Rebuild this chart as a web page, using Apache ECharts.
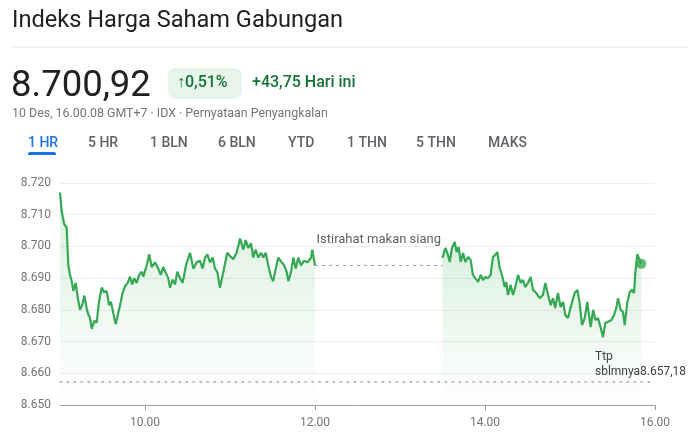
<!DOCTYPE html>
<html>
<head>
<meta charset="utf-8">
<script src="https://cdn.jsdelivr.net/npm/echarts@6/dist/echarts.min.js"></script>
<style>
html,body{margin:0;padding:0;background:#fff;}
#main{width:700px;height:438px;}
</style>
</head>
<body>
<div id="main"></div>
<script>
// ---- data (time = minutes after 09:00) ----
const title = 'Indeks Harga Saham Gabungan';
const lastPrice = '8.700,92';
const changePct = '\u21910,51%';
const changeAbs = '+43,75 Hari ini';
const subtitle = '10 Des, 16.00.08 GMT+7 \u00b7 IDX \u00b7 Pernyataan Penyangkalan';
const tabs = ['1 HR', '5 HR', '1 BLN', '6 BLN', 'YTD', '1 THN', '5 THN', 'MAKS'];
const prevClose = 8657.18;
const prevCloseLabel = 'Ttp\nsblmnya8.657,18';
const lunchLabel = 'Istirahat makan siang';
const xTickValues = [60, 180, 300, 420];
const yMin = 8650, yMax = 8720, yStep = 10;

const morningT = [0,1.2,3.0,4.7,5.9,7.1,8.3,9.4,11.1,12.5,14.1,15.7,17.2,18.8,20.0,21.2,22.4,24.2,25.9,27.5,29.4,31.3,33.0,34.6,36.0,37.6,39.3,40.7,42.4,44.0,45.9,47.8,49.4,51.0,52.4,54.1,55.8,57.7,58.8,61.2,63.0,64.7,67.1,69.4,71.1,72.9,74.8,76.4,77.6,79.6,81.2,82.8,84.7,86.6,88.9,91.8,94.1,96.5,98.8,100.7,102.4,104.0,105.9,107.8,109.4,111.0,112.9,115.3,118.1,120.0,122.3,124.7,127.1,129.4,131.1,132.9,134.8,136.4,138.1,140.0,141.9,143.5,145.2,147.0,148.9,150.5,152.3,154.1,156.5,158.3,160.0,161.2,163.1,164.7,166.4,168.2,170.1,172.4,174.8,177.2,178.1,180.0];
const morningV = [8717,8711,8707,8706,8694,8691,8689,8686,8688.5,8684,8680,8681.5,8684.5,8680.5,8678.5,8677.5,8674,8676.5,8676,8682.5,8687,8685.5,8686,8681.5,8682.5,8679,8675.5,8676,8681.5,8685,8687.5,8688.5,8690.5,8688,8690,8688.5,8691,8692,8690.5,8694,8697.5,8693.5,8695,8693,8691,8693.5,8691.5,8690,8687,8689.5,8688,8692,8690,8688.5,8694,8698,8693,8695,8695.5,8693,8696.5,8697.5,8695,8696.5,8693,8692,8687,8692,8698,8697,8696,8698,8702.5,8699,8702,8699.5,8701,8696.5,8699,8696.5,8698,8696.5,8698,8694,8690.5,8689,8693,8696.5,8695,8694,8692,8689,8692,8696.5,8693,8696.5,8694,8695.5,8695,8696.5,8699,8694];

const afternoonT = [270,272.0,273.9,275.1,276.7,278.6,280.0,281.4,282.8,284.5,286.1,288.0,289.9,291.5,293.1,295.1,297.0,298.6,300.2,302.1,304.0,305.6,307.3,308.7,310.4,312.0,313.9,315.0,316.2,318.1,319.8,321.4,323.3,325.2,326.8,328.4,330.4,332.2,333.9,336.2,338.6,340.9,342.6,344.5,346.4,348.0,349.6,351.5,353.4,355.1,356.7,358.6,360.9,363.3,365.2,366.8,368.5,370.4,372.2,373.2,374.6,376.3,377.9,379.8,381.7,383.3,384.9,386.8,389.2,391.1,392.7,393.9,395.8,397.4,398.6,400.5,402.2,403.8,405.2,406.1,407.5,410.3];
const afternoonV = [8696.4,8699.5,8697.3,8695.1,8699.5,8701.4,8698.2,8699.8,8695.1,8697.9,8695.1,8696.7,8695.7,8691,8690,8688.8,8691,8689.4,8690.4,8690,8691,8696.7,8697.3,8698.2,8693.2,8691,8687.2,8688.8,8684.7,8687.8,8684.7,8687.2,8691,8688.5,8689.4,8687.2,8688.5,8690.4,8686.3,8685.3,8683.7,8684.7,8688.5,8684.7,8681.5,8683.7,8680.6,8685.3,8680.9,8682.5,8678.4,8677.4,8681.5,8685.3,8686.3,8682.2,8675.2,8677.4,8682.5,8679,8674.6,8680,8676.8,8677.4,8674.3,8671.4,8675.9,8676.2,8676.8,8678.4,8680.6,8683.7,8680,8679.3,8675.2,8682.5,8685.6,8686.3,8685.3,8691.6,8697.6,8694.5];

// ---- build ----
const zip = (t, v) => t.map((x, i) => [x, v[i]]);
const morning = zip(morningT, morningV);
const afternoon = zip(afternoonT, afternoonV);
const lunchLevel = morningV[morningV.length - 1];
const lunchStart = morningT[morningT.length - 1];
const lunchEnd = afternoonT[0];
const lastPoint = afternoon[afternoon.length - 1];

const GREEN = '#34a853';
const FONT = 'Roboto';
const areaGrad = {
  type: 'linear', x: 0, y: 0, x2: 0, y2: 1,
  colorStops: [
    { offset: 0, color: 'rgba(52,168,83,0.26)' },
    { offset: 1, color: 'rgba(52,168,83,0.0)' }
  ]
};
const fmtY = v => Math.floor(v / 1000) + '.' + String(Math.round(v % 1000)).padStart(3, '0');
const fmtX = v => (9 + v / 60) + '.00';

const tabX = [28, 88, 150, 218, 288, 347, 416, 488];
const graphic = [
  { type: 'text', left: 12, top: 9, style: { text: title, font: '400 23.6px ' + FONT, fill: '#202124' } },
  { type: 'line', shape: { x1: 12, y1: 47, x2: 688, y2: 47 }, style: { stroke: '#e3e3e3', lineWidth: 1 } },
  { type: 'text', left: 11, top: 68, style: { text: lastPrice, font: '400 36.5px ' + FONT, fill: '#202124' } },
  { type: 'rect', shape: { x: 168, y: 68, width: 74, height: 31, r: 8 }, style: { fill: '#e6f4ea' } },
  { type: 'text', left: 177, top: 75, style: { text: changePct, font: '500 16px ' + FONT, fill: '#137333' } },
  { type: 'text', left: 252, top: 75, style: { text: changeAbs, font: '500 16px ' + FONT, fill: '#137333' } },
  { type: 'text', left: 12, top: 108, style: { text: subtitle, font: '400 12.4px ' + FONT, fill: '#70757a' } },
  { type: 'rect', shape: { x: 28, y: 152, width: 28, height: 3, r: [2, 2, 0, 0] }, style: { fill: '#1a73e8' } }
];
tabs.forEach((t, i) => {
  graphic.push({ type: 'text', left: tabX[i], top: 136, style: { text: t, font: '500 14px ' + FONT, fill: i === 0 ? '#1a73e8' : '#5f6368' } });
});

const option = {
  animation: false,
  backgroundColor: '#fff',
  textStyle: { fontFamily: FONT },
  graphic: graphic,
  grid: { left: 60, right: 45, top: 183, bottom: 33 },
  xAxis: {
    type: 'value', min: 0, max: 420,
    axisLine: { lineStyle: { color: '#9e9e9e', width: 1 } },
    axisTick: { show: true, length: 5, customValues: xTickValues, lineStyle: { color: '#9e9e9e' } },
    axisLabel: { customValues: xTickValues, formatter: fmtX, color: '#70757a', fontSize: 12, margin: 12, fontFamily: FONT },
    splitLine: { show: false }
  },
  yAxis: {
    type: 'value', min: yMin, max: yMax, interval: yStep,
    axisLine: { show: false }, axisTick: { show: false },
    axisLabel: { formatter: fmtY, color: '#70757a', fontSize: 12, margin: 9, fontFamily: FONT },
    splitLine: { lineStyle: { color: '#eeeeee', width: 1 } }
  },
  series: [
    {
      type: 'line', data: morning, showSymbol: false, smooth: false,
      lineStyle: { color: GREEN, width: 2.2 }, areaStyle: { color: areaGrad, origin: 'start' },
      markLine: {
        silent: true, symbol: 'none', animation: false,
        lineStyle: { color: '#a8a8a8', type: [1.5, 5.5], width: 1.6, cap: 'round' },
        label: { show: false },
        data: [{ yAxis: prevClose }]
      },
      markPoint: {
        silent: true,
        symbol: 'circle', symbolSize: 1, itemStyle: { color: 'rgba(0,0,0,0)' },
        label: {
          show: true, position: [0, -32], align: 'left', verticalAlign: 'top',
          color: '#3c4043', fontSize: 12, lineHeight: 15, fontFamily: FONT,
          formatter: prevCloseLabel
        },
        data: [{ coord: [378, prevClose] }]
      }
    },
    {
      type: 'line', data: [[lunchStart, lunchLevel], [lunchEnd, lunchLevel]], showSymbol: false,
      lineStyle: { color: '#9aa0a6', width: 1, type: [3, 4] },
      markPoint: {
        silent: true,
        symbol: 'circle', symbolSize: 1, itemStyle: { color: 'rgba(0,0,0,0)' },
        label: { show: true, position: 'top', distance: 19, color: '#5f6368', fontSize: 13, fontFamily: FONT, formatter: lunchLabel },
        data: [{ coord: [(lunchStart + lunchEnd) / 2, lunchLevel] }]
      }
    },
    {
      type: 'line', data: afternoon, showSymbol: false,
      lineStyle: { color: GREEN, width: 2.2 }, areaStyle: { color: areaGrad, origin: 'start' }
    },
    {
      type: 'scatter', data: [lastPoint], symbolSize: 10,
      itemStyle: { color: GREEN }
    }
  ]
};
const chart = echarts.init(document.getElementById('main'), null, { renderer: 'canvas' });
chart.setOption(option);
</script>
</body>
</html>
